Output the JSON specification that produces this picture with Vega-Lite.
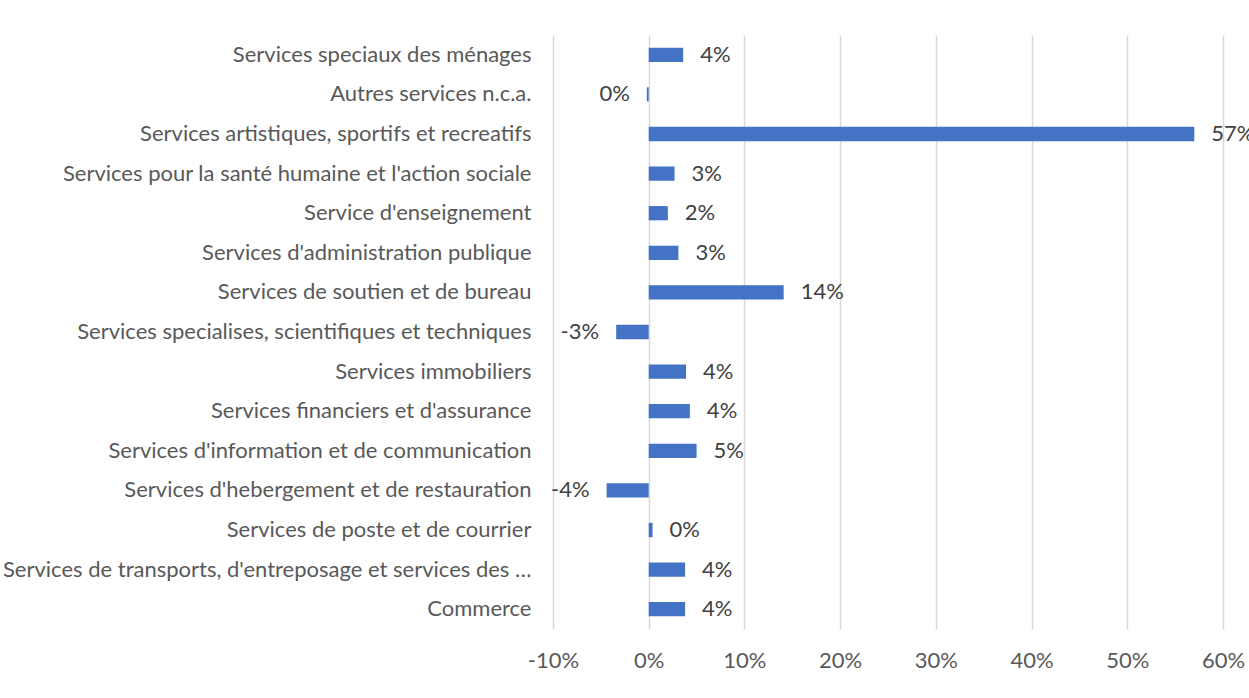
{
  "$schema": "https://vega.github.io/schema/vega-lite/v6.json",
  "width": 670,
  "height": 594,
  "autosize": {"type": "none"},
  "padding": {"left": 553, "top": 35, "right": 26, "bottom": 69},
  "background": "white",
  "config": {
    "view": {"stroke": null},
    "font": "Lato",
    "locale": {"number": {"decimal": ".", "thousands": ",", "grouping": [3], "currency": ["$", ""], "minus": "-"}},
    "axis": {"labelFont": "Lato", "labelFontSize": 22, "labelColor": "#595959", "domain": false, "ticks": false, "title": null}
  },
  "data": {
    "values": [
      {"secteur": "Services speciaux des ménages", "value": 0.036},
      {"secteur": "Autres  services n.c.a.", "value": -0.002},
      {"secteur": "Services artistiques, sportifs et recreatifs", "value": 0.57},
      {"secteur": "Services pour la santé humaine et l'action sociale", "value": 0.027},
      {"secteur": "Service d'enseignement", "value": 0.02},
      {"secteur": "Services d'administration publique", "value": 0.031},
      {"secteur": "Services de soutien et de bureau", "value": 0.141},
      {"secteur": "Services specialises, scientifiques et techniques", "value": -0.034},
      {"secteur": "Services immobiliers", "value": 0.039},
      {"secteur": "Services financiers et d'assurance", "value": 0.043},
      {"secteur": "Services d'information et de communication", "value": 0.05},
      {"secteur": "Services d'hebergement et de restauration", "value": -0.044},
      {"secteur": "Services de poste et de courrier", "value": 0.004},
      {"secteur": "Services de transports, d'entreposage et services des auxiliaires de transport", "value": 0.038},
      {"secteur": "Commerce", "value": 0.038}
    ]
  },
  "encoding": {
    "y": {
      "field": "secteur", "type": "nominal", "sort": null,
      "scale": {"paddingInner": 0.64, "paddingOuter": 0.32},
      "axis": {"labelPadding": 22, "labelLimit": 531, "grid": false}
    },
    "x": {
      "field": "value", "type": "quantitative",
      "scale": {"domain": [-0.1, 0.6], "nice": false, "zero": false},
      "axis": {"format": ".0%", "values": [-0.1, 0, 0.1, 0.2, 0.3, 0.4, 0.5, 0.6], "grid": true, "gridColor": "#d9d9d9", "gridWidth": 1.5, "labelPadding": 21, "labelFlush": false}
    }
  },
  "layer": [
    {"mark": {"type": "bar", "color": "#4472C4"}},
    {
      "transform": [{"filter": "datum.value >= 0"}],
      "mark": {"type": "text", "align": "left", "dx": 17, "fontSize": 22, "font": "Lato", "color": "#404040", "baseline": "middle"},
      "encoding": {"text": {"field": "value", "type": "quantitative", "format": ".0%"}}
    },
    {
      "transform": [{"filter": "datum.value < 0"}],
      "mark": {"type": "text", "align": "right", "dx": -17, "fontSize": 22, "font": "Lato", "color": "#404040", "baseline": "middle"},
      "encoding": {"text": {"field": "value", "type": "quantitative", "format": ".0%"}}
    }
  ]
}
